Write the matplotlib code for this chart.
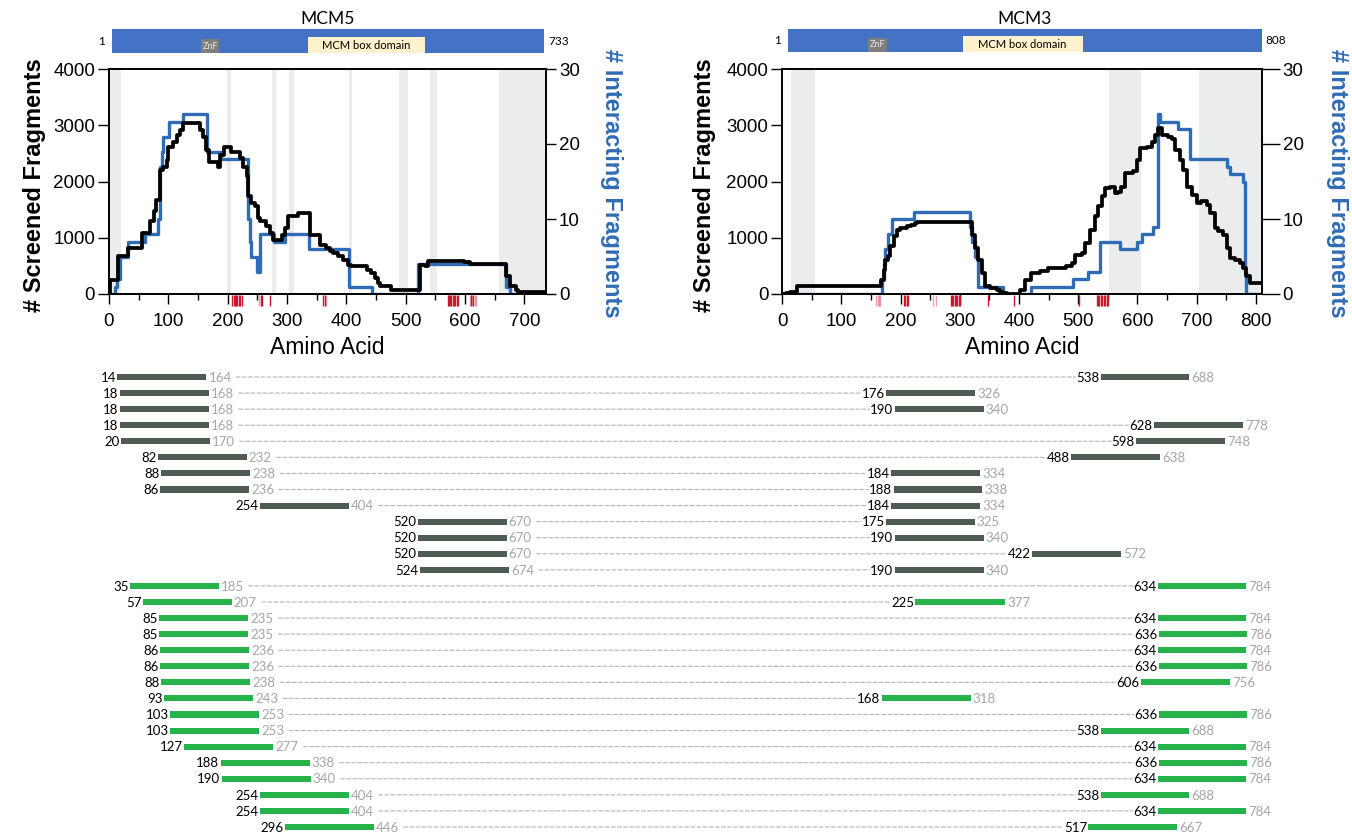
import matplotlib
matplotlib.use('Agg')
import matplotlib.pyplot as plt
import matplotlib.transforms as mtransforms
from matplotlib.patches import ConnectionPatch
from matplotlib.ticker import MultipleLocator

plt.rcParams['font.family'] = ['Liberation Sans', 'DejaVu Sans']

# ---------------- data ----------------
# MCM5 coverage profiles (step start position -> value)
mcm5_screen_x = [0, 2, 16, 32, 55, 69, 75, 80, 86, 91,
                 97, 100, 108, 114, 120, 125, 153, 159, 164, 169,
                 184, 187, 193, 206, 220, 226, 232, 235, 240, 246,
                 251, 254, 265, 271, 277, 291, 296, 302, 319, 338,
                 355, 366, 372, 378, 386, 394, 403, 408, 434, 442,
                 448, 453, 456, 476, 524, 532, 538, 585, 599, 608,
                 669, 675, 686, 689, 735]
mcm5_screen_y = [0, 254, 669, 817, 1083, 1290, 1467, 1675, 2207, 2266,
                 2385, 2621, 2710, 2828, 2917, 3035, 2917, 2799, 2562, 2355,
                 2266, 2473, 2621, 2533, 2414, 2266, 2089, 1734, 1615, 1556,
                 1349, 1290, 1201, 1083, 964, 1053, 1172, 1379, 1440, 1053,
                 876, 817, 757, 728, 669, 609, 521, 491, 432, 373,
                 284, 195, 136, 77, 521, 491, 580, 595, 562, 540,
                 314, 136, 77, 30, 30]
mcm5_inter_x = [0, 10, 13, 18, 32, 61, 83, 86, 89, 91, 101, 124, 165, 188,
                235, 237, 240, 249, 255, 278, 296, 337, 405, 444, 520, 669, 675, 735]
mcm5_inter_y = [0, 1, 2, 5, 7, 8, 10, 17, 19, 21, 23, 24, 19, 18,
                10, 7, 5, 3, 8, 7, 8, 6, 1, 0, 4, 1, 0, 0]

# MCM3 coverage profiles
mcm3_screen_x = [0, 7, 13, 24, 167, 171, 174, 179, 182, 188,
                 193, 199, 210, 218, 224, 227, 320, 326, 331, 337,
                 342, 351, 362, 368, 373, 380, 402, 410, 421, 435,
                 449, 480, 489, 494, 506, 511, 520, 528, 534, 540,
                 545, 554, 562, 568, 573, 579, 593, 599, 604, 616,
                 624, 630, 635, 641, 652, 658, 663, 672, 677, 683,
                 692, 700, 708, 717, 723, 731, 737, 745, 751, 756,
                 765, 773, 779, 784, 790, 810]
mcm3_screen_y = [0, 18, 35, 136, 254, 432, 609, 669, 846, 1024,
                 1142, 1172, 1201, 1231, 1260, 1278, 1053, 817, 609, 373,
                 136, 107, 77, 40, 18, 0, 77, 254, 373, 402,
                 462, 491, 550, 698, 728, 905, 1142, 1379, 1556, 1734,
                 1882, 1911, 1793, 1820, 1911, 2148, 2178, 2385, 2592, 2621,
                 2710, 2828, 2947, 2828, 2799, 2760, 2562, 2385, 2207, 1911,
                 1763, 1615, 1645, 1586, 1438, 1172, 1112, 1053, 817, 639,
                 609, 550, 462, 314, 195, 195]
mcm3_inter_x = [0, 168, 171, 174, 179, 186, 223, 317, 320, 326,
                331, 373, 420, 491, 516, 536, 570, 599, 607, 627,
                634, 638, 669, 689, 751, 756, 779, 782, 784, 810]
mcm3_inter_y = [0, 2, 4, 6, 8, 10, 11, 9, 7, 5,
                1, 0, 1, 2, 3, 7, 6, 7, 8, 9,
                24, 23, 22, 18, 17, 16, 15, 3, 0, 0]

# shaded regions and red site marks
mcm5_spans = [(0, 20), (199, 205), (274, 282), (303, 311), (405, 409),
              (488, 504), (541, 552), (657, 736)]
mcm3_spans = [(15, 55), (552, 606), (704, 810)]
mcm5_sites = [208, 210, 212, 214, 216, 219, 221, 224, 256, 258, 272, 361, 364,
              571, 573, 575, 577, 579, 581, 583, 586, 589, 610, 614]
mcm5_faint = [253, 366, 608, 612, 617, 619]
mcm3_sites = [206, 208, 210, 213, 285, 287, 289, 291, 294, 296, 298, 300,
              347, 391, 502, 531, 533, 535, 538, 540, 543, 545, 548, 551]
mcm3_faint = [158, 161, 163, 165, 255, 259]

# domain maps
mcm5_len = 733
mcm3_len = 808
mcm5_domains = [('ZnF', 152, 183), ('MCM box domain', 333, 531)]
mcm3_domains = [('ZnF', 137, 170), ('MCM box domain', 299, 503)]

# fragment pairs: MCM5 fragment -> MCM3 fragment
mcm5_start = [14, 18, 18, 18, 20, 82, 88, 86, 254, 520, 520, 520, 524,
              35, 57, 85, 85, 86, 86, 88, 93, 103, 103, 127, 188, 190, 254, 254, 296]
mcm5_end = [164, 168, 168, 168, 170, 232, 238, 236, 404, 670, 670, 670, 674,
            185, 207, 235, 235, 236, 236, 238, 243, 253, 253, 277, 338, 340, 404, 404, 446]
mcm3_start = [538, 176, 190, 628, 598, 488, 184, 188, 184, 175, 190, 422, 190,
              634, 225, 634, 636, 634, 636, 606, 168, 636, 538, 634, 636, 634, 538, 634, 517]
mcm3_end = [688, 326, 340, 778, 748, 638, 334, 338, 334, 325, 340, 572, 340,
            784, 377, 784, 786, 784, 786, 756, 318, 786, 688, 784, 786, 784, 688, 784, 667]
n_screened = 13  # first rows are screened-only, the rest interact

# ---------------- style ----------------
BLUE = '#2f6cb5'
SPAN = '#ebecee'
RED = '#c8182f'
DOMBLUE = '#4472c4'
BAR_GREY = '#4d5b50'
BAR_GREEN = '#27b34b'
LABEL_FONT = ['Lato', 'DejaVu Sans']

W, H = 1352, 834
fig = plt.figure(figsize=(W / 100, H / 100), dpi=100)


def px_axes(x0, y0, x1, y1):
    return fig.add_axes([x0 / W, 1 - y1 / H, (x1 - x0) / W, (y1 - y0) / H])


def draw_profile(box, xmax, sx, sy, ix, iy, spans, sites, faint, rtick):
    ax = px_axes(*box)
    ax2 = ax.twinx()
    ax.set_zorder(ax2.get_zorder() + 1)
    ax.patch.set_visible(False)
    for a, b in spans:
        ax2.axvspan(a, b, color=SPAN, lw=0, zorder=0)
    ax2.step(ix, iy, where='post', color=BLUE, lw=2.4)
    ax.step(sx, sy, where='post', color='black', lw=2.7)
    trans = mtransforms.blended_transform_factory(ax.transData, ax.transAxes)
    ax.vlines(sites, -0.055, -0.004, transform=trans, color=RED, lw=1.0, clip_on=False)
    ax.vlines(faint, -0.055, -0.004, transform=trans, color=RED, lw=1.0,
              alpha=0.4, clip_on=False)
    ax.set_xlim(0, xmax)
    ax.set_ylim(0, 4000)
    ax2.set_ylim(0, 30)
    ax.xaxis.set_major_locator(MultipleLocator(100))
    ax.xaxis.set_minor_locator(MultipleLocator(50))
    ax.set_yticks([0, 1000, 2000, 3000, 4000])
    ax2.set_yticks([0, 10, 20, 30])
    ax.tick_params(axis='x', which='major', length=7, width=1, labelsize=13.5, pad=7)
    ax.tick_params(axis='x', which='minor', length=4, width=1)
    ax.tick_params(axis='y', length=8, width=1, labelsize=13.5, pad=2)
    ax2.tick_params(axis='y', length=rtick, width=1, labelsize=13.5, pad=2)
    for a in (ax, ax2):
        for sp in a.spines.values():
            sp.set_linewidth(1.2)
    ax.set_xlabel('Amino Acid', fontsize=16.5, labelpad=4)
    return ax


def draw_domains(box, length, domains, name):
    ax = px_axes(*box)
    ax.barh(0.5, length - 1, left=1, height=1.0, color=DOMBLUE)
    for label, a, b in domains:
        if label == 'ZnF':
            ax.bar(a, 0.6, width=b - a, bottom=0, align='edge', color='#7f7f7f')
            ax.text((a + b) / 2, 0.3, label, ha='center', va='center',
                    fontsize=6.5, color='#e6e6e6', family=LABEL_FONT)
        else:
            ax.bar(a, 0.68, width=b - a, bottom=0, align='edge', color='#fff2cc')
            ax.text((a + b) / 2, 0.33, label, ha='center', va='center',
                    fontsize=8, color='black', family=LABEL_FONT)
    ax.set_xlim(1, length)
    ax.set_ylim(0, 1)
    ax.annotate('1', (1, 0.5), xytext=(-5, 0), textcoords='offset points',
                ha='right', va='center', fontsize=8.5, family=LABEL_FONT)
    ax.annotate(str(length), (length, 0.5), xytext=(3, 0), textcoords='offset points',
                ha='left', va='center', fontsize=8.5, family=LABEL_FONT)
    ax.set_title(name, fontsize=12.5, pad=4, family=LABEL_FONT)
    ax.axis('off')


draw_profile((109, 69, 545.7, 294), 736, mcm5_screen_x, mcm5_screen_y,
             mcm5_inter_x, mcm5_inter_y, mcm5_spans, mcm5_sites, mcm5_faint, 7.5)
draw_profile((782.3, 69, 1261.7, 294), 810, mcm3_screen_x, mcm3_screen_y,
             mcm3_inter_x, mcm3_inter_y, mcm3_spans, mcm3_sites, mcm3_faint, 13)
draw_domains((111.7, 29.3, 544.3, 53.3), mcm5_len, mcm5_domains, 'MCM5')
draw_domains((787.7, 29.3, 1261.7, 51.7), mcm3_len, mcm3_domains, 'MCM3')

for xc in (35, 705):
    fig.text(xc / W, 1 - 185 / H, '# Screened Fragments', rotation=90,
             ha='center', va='center', fontsize=17, fontweight='bold')
for xc in (612, 1337):
    fig.text(xc / W, 1 - 183 / H, '# Interacting Fragments', rotation=-90,
             ha='center', va='center', fontsize=17, fontweight='bold', color=BLUE)

# ---------------- fragment list ----------------
axL = px_axes(109, 369, 545.7, 834)
axR = px_axes(782.3, 369, 1261.7, 834)
for a, xmax in ((axL, 736), (axR, 810)):
    a.set_xlim(0, xmax)
    a.set_ylim(28.436, -0.498)
    a.axis('off')

for i in range(len(mcm5_start)):
    col = BAR_GREY if i < n_screened else BAR_GREEN
    for a, s, e in ((axL, mcm5_start[i], mcm5_end[i]), (axR, mcm3_start[i], mcm3_end[i])):
        a.barh(i, e - s, left=s, height=0.38, color=col)
        a.annotate(str(s), (s, i), xytext=(-1, -0.5), textcoords='offset points',
                   ha='right', va='center', fontsize=9.5, color='black', family=LABEL_FONT)
        a.annotate(str(e), (e, i), xytext=(1.5, -0.5), textcoords='offset points',
                   ha='left', va='center', fontsize=9.5, color='#a6a6a6', family=LABEL_FONT)
    con = ConnectionPatch(
        xyA=(mcm5_end[i], i),
        coordsA=mtransforms.offset_copy(axL.transData, fig=fig, x=30, units='dots'),
        xyB=(mcm3_start[i], i),
        coordsB=mtransforms.offset_copy(axR.transData, fig=fig, x=-25, units='dots'),
        color='#b5b5b5', lw=0.8, linestyle=(0, (3.5, 2)))
    fig.add_artist(con)

fig.savefig('out.png', dpi=100)
